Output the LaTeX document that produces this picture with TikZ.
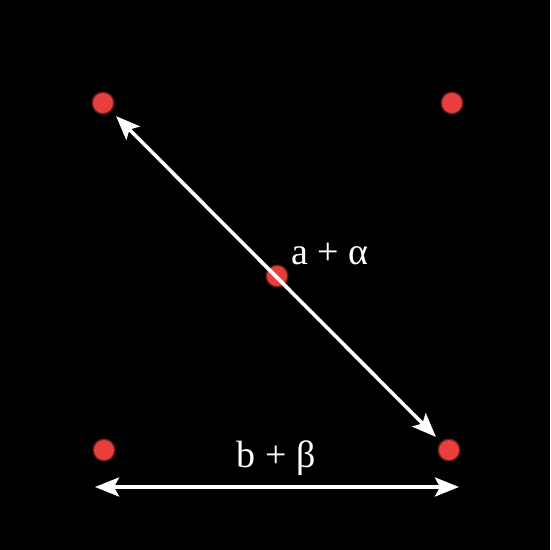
\documentclass[tikz,border=0pt]{standalone}
\usepackage{fontspec}
\setmainfont{Liberation Serif}
\usetikzlibrary{positioning}
\usetikzlibrary {arrows.meta}
\definecolor{dotred}{RGB}{232,62,62}
\tikzset{reddot/.style={circle,fill=dotred,inner sep=0pt,minimum size=20pt,
draw=dotred,draw opacity=0.45,line width=3pt}}
\tikzset{wlabel/.style={text=white,font=\fontsize{38}{38}\selectfont,inner sep=0pt}}
\tikzset{warrow/.style={draw=white,line width=3.6pt,
{Stealth[length=24pt,width=19pt,inset=5pt]}-{Stealth[length=24pt,width=19pt,inset=5pt]}}}

\begin{document}
\begin{tikzpicture}[x=1pt,y=-1pt]
        \fill[black] (0,0) rectangle (550,550);
        \useasboundingbox (0,0) rectangle (550,550);

        \node[reddot] (dotTL) at (103, 103) {};
        \node[reddot] (dotTR) at (452, 103) {};
        \node[reddot] (dotC) at (277, 276) {};
        \node[reddot] (dotBL) at (104, 450) {};
        \node[reddot] (dotBR) at (449, 450) {};

        \draw [warrow, shorten <=7pt, shorten >=7pt] (dotTL) -- (dotBR);

        \coordinate (bottomL) at (95, 487);
        \coordinate (bottomR) at (459, 487);
        \draw [warrow] (bottomL) -- (bottomR);

        \node[wlabel, anchor=base] (labelA) at (330, 264) {a + α};
        \node[wlabel, anchor=base] (labelB) at (276, 467) {b + β};

    \end{tikzpicture}
\end{document}
